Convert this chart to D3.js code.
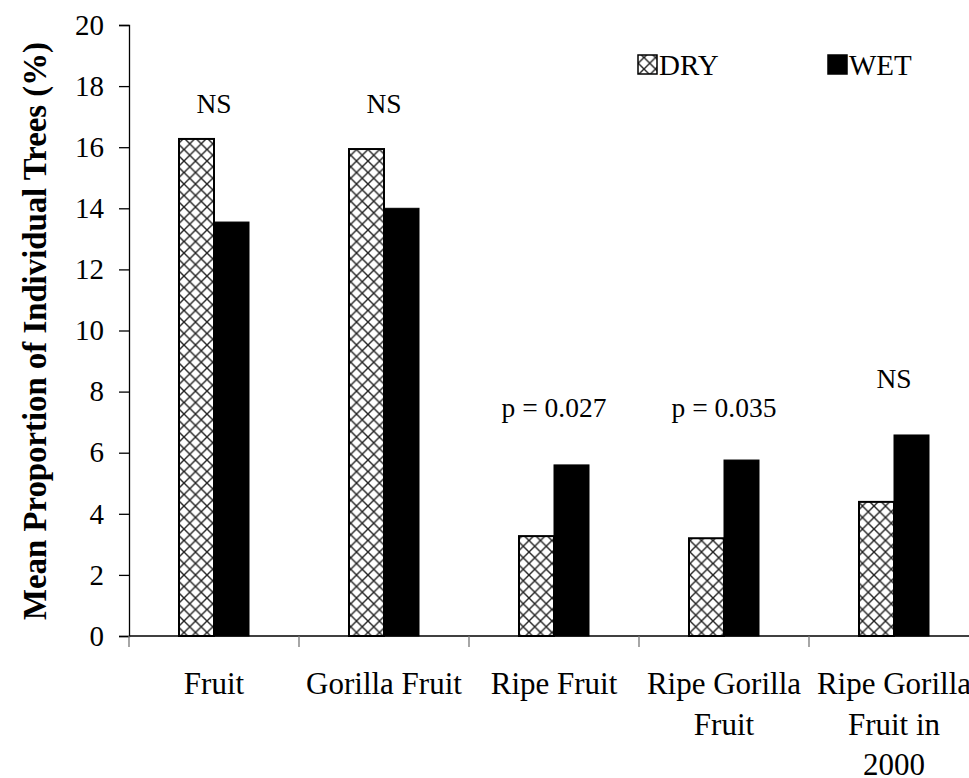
<!DOCTYPE html>
<html><head><meta charset="utf-8">
<script src="https://cdn.jsdelivr.net/npm/d3@7"></script>
<style>body{margin:0;background:#fff;} svg{display:block;} text{font-family:"Liberation Serif","Times New Roman",serif;fill:#000;}</style>
</head><body>
<svg id="chart" width="969" height="778"></svg>
<script>
const categories = [["Fruit"],["Gorilla Fruit"],["Ripe Fruit"],["Ripe Gorilla","Fruit"],["Ripe Gorilla","Fruit in","2000"]];
const series = ["DRY","WET"];
const dryValues = [16.27, 15.94, 3.27, 3.2, 4.39];
const wetValues = [13.55, 14.0, 5.6, 5.76, 6.58];
const annotations = ["NS","NS","p = 0.027","p = 0.035","NS"];
const annotationY = [17.12, 17.12, 7.17, 7.17, 8.12];
const yTicks = [0,2,4,6,8,10,12,14,16,18,20];
const yTitle = "Mean Proportion of Individual Trees (%)";

const svg = d3.select("#chart");
const font = '"Liberation Serif","Times New Roman",serif';
const x = d3.scaleBand().domain(d3.range(categories.length)).range([129, 979]);
const y = d3.scaleLinear().domain([0,20]).range([636, 25]);

const defs = svg.append("defs");
const P = 11.5;
const pat = defs.append("pattern").attr("id","hatch").attr("patternUnits","userSpaceOnUse")
  .attr("width",P).attr("height",P);
pat.append("rect").attr("width",P).attr("height",P).attr("fill","#fff");
pat.append("path").attr("d",`M0,0L${P},${P}M${P},0L0,${P}`).attr("stroke","#222").attr("stroke-width",1.4);

// y axis
const yAxis = svg.append("g").attr("transform","translate(129,0)")
  .call(d3.axisLeft(y).tickValues(yTicks).tickSize(10).tickPadding(15));
yAxis.select(".domain").attr("stroke","#000").attr("stroke-width",1.3);
yAxis.selectAll(".tick line").attr("stroke","#000").attr("stroke-width",1.3);
yAxis.selectAll("text").style("font-family",font).style("font-size","29px").attr("fill","#000");

// x axis
const xAxisG = svg.append("g");
xAxisG.append("line").attr("x1",129).attr("x2",969).attr("y1",636).attr("y2",636).attr("stroke","#000").attr("stroke-width",1.3);
xAxisG.selectAll(".xt").data(d3.range(categories.length)).join("line")
  .attr("x1",d=>x(d)).attr("x2",d=>x(d)).attr("y1",636).attr("y2",647).attr("stroke","#777").attr("stroke-width",1.3);

const barW = 35;
const g = svg.append("g");
categories.forEach((c,i)=>{
  const cx = x(i)+x.bandwidth()/2;
  g.append("rect").attr("x",cx-barW).attr("width",barW).attr("y",y(dryValues[i])).attr("height",y(0)-y(dryValues[i]))
    .attr("fill","url(#hatch)").attr("stroke","#000").attr("stroke-width",2);
  g.append("rect").attr("x",cx).attr("width",barW).attr("y",y(wetValues[i])).attr("height",y(0)-y(wetValues[i]))
    .attr("fill","#000").attr("stroke","#000").attr("stroke-width",1);
  g.append("text").attr("x",cx).attr("y",y(annotationY[i])).attr("text-anchor","middle")
    .style("font-size","27.5px").text(annotations[i]);
  const t = svg.append("text").style("font-size","31px").attr("text-anchor","middle");
  c.forEach((line,k)=>{
    t.append("tspan").attr("x",cx).attr("y",694+k*40.5).text(line);
  });
});

// y title
const tt = svg.append("text").attr("transform","translate(46,331) rotate(-90)").attr("text-anchor","middle")
  .style("font-size","30px").style("font-weight","bold").text(yTitle);
const len = tt.node().getComputedTextLength();
tt.style("font-size", (30*578/len).toFixed(2)+"px");

// legend
const leg = [{name:series[0], x:638, fill:"url(#hatch)"},{name:series[1], x:828, fill:"#000"}];
leg.forEach(l=>{
  svg.append("rect").attr("x",l.x).attr("y",55).attr("width",19).attr("height",19).attr("fill",l.fill).attr("stroke","#000").attr("stroke-width",1.5);
  svg.append("text").attr("x",l.x+21).attr("y",75).style("font-size","29px").text(l.name);
});
</script>
</body></html>
